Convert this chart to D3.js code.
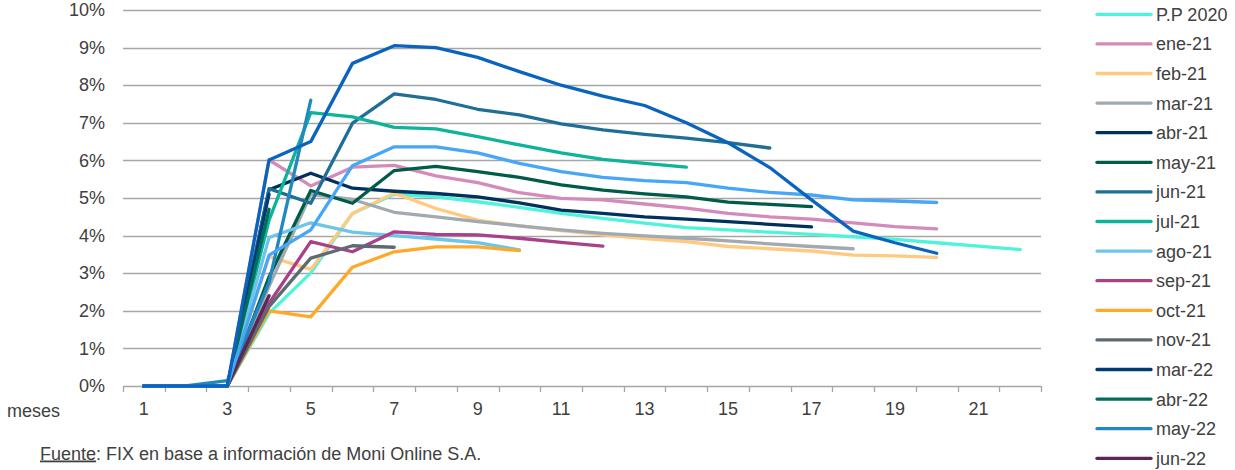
<!DOCTYPE html>
<html>
<head>
<meta charset="utf-8">
<script src="https://cdn.jsdelivr.net/npm/d3@7"></script>
<style>
  html, body { margin: 0; padding: 0; background: #ffffff; }
  svg { display: block; font-family: "Liberation Sans", Arial, sans-serif; }
</style>
</head>
<body>
<svg id="chart" width="1235" height="470"></svg>
<script>
// ---- DATA ----
const categories = [1,2,3,4,5,6,7,8,9,10,11,12,13,14,15,16,17,18,19,20,21,22];
const xTickLabels = ["1","3","5","7","9","11","13","15","17","19","21"];
const yTicks = [0,0.01,0.02,0.03,0.04,0.05,0.06,0.07,0.08,0.09,0.10];

const seriesNames = ["P.P 2020","ene-21","feb-21","mar-21","abr-21","may-21","jun-21","jul-21",
  "ago-21","sep-21","oct-21","nov-21","mar-22","abr-22","may-22","jun-22","serie 17","serie 18"];
const seriesColors = ["#4ff2da","#d48bbb","#ffca80","#a2a9b1","#00305e","#005c48","#1e6e96","#0db39a",
  "#6ec5ec","#a8418a","#ffa829","#5e6a72","#003b73","#006d5d","#2188c0","#5c2554","#48a6f6","#0a64be"];

// values in % by month (index 0 = month 1)
const ppA2020 = [0,0,0,1.93,3.01,4.59,5.1,5.03,4.9,4.75,4.59,4.46,4.33,4.21,4.15,4.09,4.03,3.97,3.9,3.81,3.72,3.63];
const ene21 = [0,0,0,6.01,5.32,5.82,5.87,5.59,5.41,5.14,4.99,4.95,4.84,4.73,4.59,4.5,4.44,4.34,4.24,4.18];
const feb21 = [0,0,0,3.44,3.1,4.59,5.13,4.72,4.41,4.26,4.13,4.02,3.92,3.84,3.71,3.65,3.59,3.48,3.46,3.42];
const mar21 = [0,0,0,2.65,5.1,4.96,4.62,4.5,4.37,4.26,4.15,4.06,3.99,3.93,3.86,3.78,3.71,3.65];
const abr21 = [0,0,0,5.22,5.66,5.26,5.18,5.12,5.03,4.87,4.68,4.59,4.5,4.44,4.37,4.3,4.23];
const may21 = [0,0,0,2.9,5.2,4.86,5.73,5.84,5.7,5.55,5.35,5.21,5.11,5.03,4.89,4.83,4.77];
const jun21 = [0,0,0,5.25,4.86,6.99,7.77,7.62,7.36,7.21,6.97,6.81,6.69,6.59,6.47,6.33];
const jul21 = [0,0,0,4.41,7.27,7.16,6.88,6.84,6.63,6.41,6.2,6.03,5.92,5.82];
const ago21 = [0,0,0,3.95,4.34,4.09,4.0,3.91,3.81,3.62];
const sep21 = [0,0,0,2.2,3.84,3.57,4.1,4.03,4.02,3.93,3.82,3.72];
const oct21 = [0,0,0,2.0,1.84,3.16,3.57,3.7,3.7,3.6];
const nov21 = [0,0,0,2.11,3.4,3.73,3.69];
const mar22 = [0,0,0,5.1];
const abr22 = [0,0,0,4.7];
const may22 = [0,0,0.14,2.75,7.6];
const jun22 = [0,0,0,2.4];
const serie17 = [0,0,0,3.48,4.15,5.86,6.36,6.36,6.2,5.92,5.7,5.55,5.46,5.41,5.26,5.15,5.08,4.95,4.92,4.88];
const serie18 = [0,0,0,6.01,6.5,8.58,9.05,9.0,8.74,8.36,8.0,7.71,7.46,7.0,6.47,5.81,4.95,4.12,3.81,3.53];

const seriesValues = [ppA2020,ene21,feb21,mar21,abr21,may21,jun21,jul21,ago21,sep21,oct21,nov21,
  mar22,abr22,may22,jun22,serie17,serie18];

const sourceText = "FIX en base a información de Moni Online S.A.";

// ---- CHART ----
const svg = d3.select("#chart");
const W = 1235, H = 470;
const plotLeft = 123, plotRight = 1041, plotTop = 10, plotBottom = 386;
const textColor = "#404040";
const gridColor = "#a6a6a6";
const fontSize = 18;

const x = d3.scaleBand().domain(categories).range([plotLeft, plotRight]).padding(0);
const y = d3.scaleLinear().domain([0, 0.10]).range([plotBottom, plotTop]);
const bw = x.bandwidth();

// gridlines
svg.append("g").selectAll("line").data(yTicks).join("line")
  .attr("x1", plotLeft).attr("x2", plotRight)
  .attr("y1", d => Math.round(y(d)) + 0.5).attr("y2", d => Math.round(y(d)) + 0.5)
  .attr("stroke", gridColor).attr("stroke-width", 1.3);

// y axis labels
const yAxis = d3.axisLeft(y).tickValues(yTicks).tickFormat(d3.format(".0%")).tickSize(0).tickPadding(0);
const gy = svg.append("g").attr("transform", `translate(${105},0)`).call(yAxis);
gy.select(".domain").remove();
gy.selectAll("text").attr("fill", textColor).style("font-size", fontSize + "px")
  .style("font-family", '"Liberation Sans", Arial, sans-serif');

// x axis tick marks at category boundaries
const boundaries = categories.map(c => x(c)).concat([plotRight]);
svg.append("g").selectAll("line").data(boundaries).join("line")
  .attr("x1", d => Math.round(d) + 0.5).attr("x2", d => Math.round(d) + 0.5)
  .attr("y1", plotBottom).attr("y2", plotBottom + 6)
  .attr("stroke", gridColor).attr("stroke-width", 1.3);

// x axis labels
const xAxis = d3.axisBottom(x).tickValues(xTickLabels.map(Number)).tickSize(0).tickPadding(0);
const gx = svg.append("g").attr("transform", `translate(0,${plotBottom + 16})`).call(xAxis);
gx.select(".domain").remove();
gx.selectAll("text").attr("fill", textColor).style("font-size", fontSize + "px")
  .style("font-family", '"Liberation Sans", Arial, sans-serif');

// "meses" label
svg.append("text").attr("x", 7).attr("y", 417).attr("fill", textColor)
  .style("font-size", fontSize + "px").text("meses");

// lines
const line = d3.line()
  .x((d, i) => x(categories[i]) + bw / 2)
  .y(d => y(d / 100));

const gLines = svg.append("g");
seriesValues.forEach((vals, k) => {
  gLines.append("path")
    .datum(vals)
    .attr("d", line)
    .attr("fill", "none")
    .attr("stroke", seriesColors[k])
    .attr("stroke-width", 3.3)
    .attr("stroke-linejoin", "round")
    .attr("stroke-linecap", "round");
});

// legend
const legendTop = 14.3, legendStep = 29.6;
const legendItems = seriesNames.map((n, i) => ({ name: n, color: seriesColors[i], cy: legendTop + i * legendStep }))
  .filter(d => d.cy + 8 < H);
const gLeg = svg.append("g");
const items = gLeg.selectAll("g").data(legendItems).join("g")
  .attr("transform", d => `translate(0,${d.cy})`);
items.append("line").attr("x1", 1097).attr("x2", 1151).attr("y1", 0).attr("y2", 0)
  .attr("stroke", d => d.color).attr("stroke-width", 3.3).attr("stroke-linecap", "round");
items.append("text").attr("x", 1156).attr("y", 6.5).attr("fill", textColor)
  .style("font-size", fontSize + "px").text(d => d.name);

// source
const src = svg.append("text").attr("x", 40).attr("y", 459.5).attr("fill", textColor)
  .style("font-size", fontSize + "px");
src.append("tspan").attr("text-decoration", "underline").text("Fuente");
src.append("tspan").text(": " + sourceText);
</script>
</body>
</html>
